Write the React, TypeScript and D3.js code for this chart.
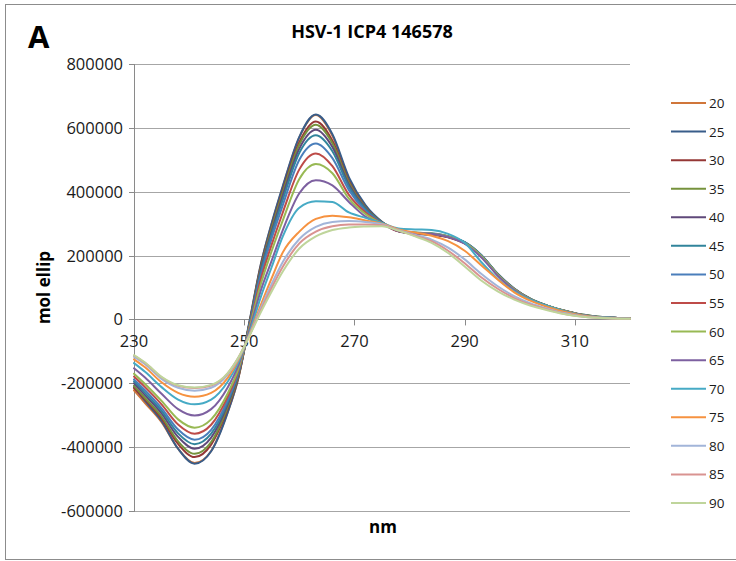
import React from "react";
import * as d3 from "d3";

// wavelength grid (nm)
const NM = [230,232,235,238,241,244,247,249,251,253,255,257,260,263,266,269,272,275,278,281,284,287,290,293,296,299,302,305,308,311,314,317,320];

// mol ellip values, in thousands
const T20 = [-222,-262,-322,-405,-450,-412,-290,-180,-5,170,300,415,570,640,575,440,355,305,278,270,266,258,240,200,140,95,63,42,27,15,8,5,3];
const T25 = [-212,-255,-318,-405,-452,-413,-292,-178,-2,172,303,418,572,642,580,445,358,306,276,268,265,259,242,202,143,97,64,43,28,16,9,5,2];
const T30 = [-215,-251,-310,-390,-431,-392,-279,-175,-8,164,290,404,555,620,560,432,351,304,277,269,266,257,238,198,139,94,62,42,27,15,8,5,2];
const T35 = [-208,-246,-304,-382,-421,-384,-274,-172,-9,160,286,398,548,610,552,428,350,304,278,271,268,260,241,201,142,96,64,43,28,16,9,5,3];
const T40 = [-200,-237,-294,-368,-405,-370,-266,-168,-11,155,277,388,535,594,540,422,348,303,276,270,267,259,240,200,141,95,63,42,27,15,8,5,2];
const T45 = [-194,-230,-286,-357,-391,-358,-259,-164,-13,148,268,375,522,577,527,415,345,303,278,272,270,261,242,201,141,95,63,43,27,15,8,5,2];
const T50 = [-188,-222,-278,-345,-377,-346,-252,-161,-16,138,255,358,500,551,505,405,340,302,277,271,268,260,241,200,141,95,63,42,27,15,8,5,2];
const T55 = [-179,-212,-266,-329,-358,-330,-242,-156,-20,125,235,335,470,520,480,390,335,301,276,270,267,259,239,198,139,94,62,42,27,15,8,5,2];
const T60 = [-170,-202,-255,-313,-339,-313,-232,-151,-24,110,215,310,440,487,458,378,330,300,278,272,269,260,240,199,140,94,62,42,27,15,8,5,2];
const T65 = [-153,-182,-233,-281,-301,-281,-213,-141,-31,90,185,280,395,436,420,368,322,299,277,271,268,258,237,195,137,92,61,41,26,15,8,5,2];
const T70 = [-137,-164,-212,-251,-266,-251,-195,-132,-40,70,165,260,350,370,368,335,318,302,285,282,280,268,240,180,127,88,61,42,26,14,8,5,2];
const T75 = [-125,-150,-197,-230,-242,-230,-183,-125,-45,45,130,210,275,315,325,320,310,300,282,272,262,245,215,170,125,85,58,39,24,13,7,4,2];
const T80 = [-117,-140,-186,-214,-223,-214,-173,-121,-47,35,112,180,252,290,305,308,305,298,280,265,250,225,188,143,104,73,50,34,20,11,6,3,2];
const T85 = [-113,-136,-181,-208,-215,-207,-169,-118,-48,28,100,165,238,275,292,297,297,295,279,262,245,215,176,132,96,67,46,31,18,10,5,3,2];
const T90 = [-112,-135,-180,-206,-213,-205,-168,-118,-50,22,88,150,222,260,280,288,291,292,278,260,240,208,166,122,88,62,43,29,17,9,5,3,2];

const LABELS = ["20","25","30","35","40","45","50","55","60","65","70","75","80","85","90"];
const VALUES = [T20,T25,T30,T35,T40,T45,T50,T55,T60,T65,T70,T75,T80,T85,T90];
const COLORS = ["#D0763A","#385D8A","#953735","#76923C","#5F497A","#31849B","#4A7EBB","#BE4B48","#98B954","#7D60A0","#46AAC5","#F69240","#A2B5D9","#D99391","#BFD59B"];

const X_TICKS = [230, 250, 270, 290, 310];
const Y_TICKS = [800000, 600000, 400000, 200000, 0, -200000, -400000, -600000];

const TITLE = "HSV-1 ICP4 146578";
const PANEL = "A";
const X_TITLE = "nm";
const Y_TITLE = "mol ellip";

export default function App() {
  const W = 736, H = 561;
  const left = 134, right = 630, top = 64, bottom = 511;
  const x = d3.scaleLinear().domain([230, 320]).range([left, right]);
  const y = d3.scaleLinear().domain([-600000, 800000]).range([bottom, top]);
  const line = d3
    .line<number>()
    .x((_, i) => x(NM[i]))
    .y((d) => y(d * 1000))
    .curve(d3.curveMonotoneX);
  const font = "'Open Sans', 'Liberation Sans', sans-serif";
  const axisColor = "#8a8a8a";
  const y0 = y(0);
  const legX = 671, legY0 = 103, legStep = 28.57;

  return (
    <svg width={W} height={H} style={{ position: "absolute", left: 0, top: 0, background: "#fff" }} fontFamily={font}>
      <rect x={5.5} y={4.5} width={740} height={555} fill="#fff" stroke="#8c8c8c" strokeWidth={1} />
      <text x={28} y={48} fontSize={31} fontWeight="bold" fill="#000">{PANEL}</text>
      <text x={372} y={38} fontSize={18} fontWeight="bold" textAnchor="middle" fill="#000">{TITLE}</text>

      {Y_TICKS.filter((t) => t !== 0).map((t) => (
        <line key={"g" + t} x1={left} x2={right} y1={Math.round(y(t)) + 0.5} y2={Math.round(y(t)) + 0.5} stroke="#a6a6a6" strokeWidth={1} />
      ))}
      <line x1={left + 0.5} x2={left + 0.5} y1={top} y2={bottom + 1} stroke={axisColor} strokeWidth={1} />
      {Y_TICKS.map((t) => (
        <g key={"yt" + t}>
          <line x1={left - 5} x2={left} y1={Math.round(y(t)) + 0.5} y2={Math.round(y(t)) + 0.5} stroke={axisColor} />
          <text x={left - 11} y={y(t) + 6} fontSize={16.5} textAnchor="end" fill="#1a1a1a">{t}</text>
        </g>
      ))}
      <line x1={left} x2={right} y1={Math.round(y0) + 0.5} y2={Math.round(y0) + 0.5} stroke={axisColor} strokeWidth={1} />
      {X_TICKS.map((t) => (
        <g key={"xt" + t}>
          <line x1={Math.round(x(t)) + 0.5} x2={Math.round(x(t)) + 0.5} y1={y0} y2={y0 + 6} stroke={axisColor} />
          <text x={x(t)} y={y0 + 28} fontSize={16.5} textAnchor="middle" fill="#1a1a1a">{t}</text>
        </g>
      ))}

      <g fill="none" strokeWidth={2} strokeLinejoin="round" strokeLinecap="round">
        {VALUES.map((vals, i) => (
          <path key={"s" + i} d={line(vals) || ""} stroke={COLORS[i]} />
        ))}
      </g>

      <text x={383} y={533} fontSize={17} fontWeight="bold" textAnchor="middle" fill="#000">{X_TITLE}</text>
      <text transform={`translate(50, ${(top + bottom) / 2}) rotate(-90)`} fontSize={17} fontWeight="bold" textAnchor="middle" fill="#000">{Y_TITLE}</text>

      {LABELS.map((lab, i) => (
        <g key={"l" + lab}>
          <line x1={legX} x2={legX + 35} y1={legY0 + i * legStep} y2={legY0 + i * legStep} stroke={COLORS[i]} strokeWidth={2} />
          <text x={legX + 38} y={legY0 + i * legStep + 5} fontSize={13.5} fill="#1a1a1a">{lab}</text>
        </g>
      ))}
    </svg>
  );
}
